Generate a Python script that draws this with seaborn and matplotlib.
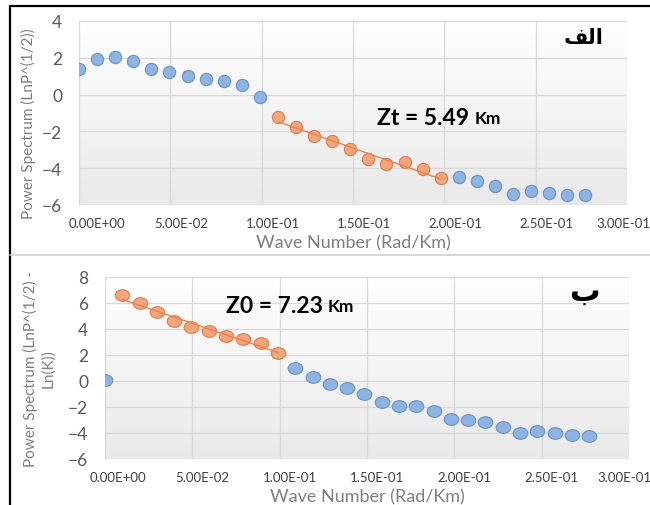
import numpy as np
import matplotlib
matplotlib.use("Agg")
import matplotlib.pyplot as plt
import matplotlib.transforms as mtransforms
from matplotlib.colors import LinearSegmentedColormap
from matplotlib.lines import Line2D
from matplotlib.path import Path
import seaborn as sns

# ===============================================
# Data
# ===============================================
wave_number = [0.0, 0.0099, 0.0198, 0.0297, 0.0396, 0.0495, 0.0594, 0.0693,
               0.0792, 0.0891, 0.099, 0.1089, 0.1188, 0.1287, 0.1386, 0.1485,
               0.1584, 0.1683, 0.1782, 0.1881, 0.198, 0.2079, 0.2178, 0.2277,
               0.2376, 0.2475, 0.2574, 0.2673, 0.2772]

# panel "alef": LnP^(1/2)
spectrum_top = [1.41, 1.93, 2.05, 1.83, 1.41, 1.21, 0.99, 0.84, 0.74, 0.51,
                -0.11,
                -1.21, -1.78, -2.27, -2.54, -2.95, -3.50, -3.75, -3.68, -4.06,
                -4.54,
                -4.50, -4.70, -4.98, -5.38, -5.24, -5.36, -5.47, -5.47]

# panel "beh": LnP^(1/2) - Ln(K)
spectrum_bottom = [0.05,
                   6.58, 5.98, 5.30, 4.62, 4.18, 3.82, 3.50, 3.20, 2.95, 2.19,
                   0.98, 0.34, -0.25, -0.55, -1.02, -1.58, -1.96, -1.96, -2.33,
                   -2.94, -3.00, -3.17, -3.53, -3.97, -3.83, -4.02, -4.13, -4.20]

fit_top = (11, 21)      # index range of the orange (fitted) points
fit_bottom = (1, 11)

x_ticks = [0.0, 0.05, 0.10, 0.15, 0.20, 0.25, 0.30]
x_tick_labels = ["0.00E+00", "5.00E-02", "1.00E-01", "1.50E-01",
                 "2.00E-01", "2.50E-01", "3.00E-01"]
y_ticks_top = [-6, -4, -2, 0, 2, 4]
y_ticks_bottom = [-6, -4, -2, 0, 2, 4, 6, 8]

title_top = "الف"
title_bottom = "ب"
# matplotlib does no Arabic shaping, so use presentation forms in visual order
title_top_shaped = "\uFED2\uFEDF\uFE8D"
title_bottom_shaped = "\uFE8F"

# ===============================================
# Style
# ===============================================
sns.set_style("white")
plt.rcParams["font.family"] = ["Lato", "DejaVu Sans"]

BLUE = "#8db3e2"
BLUE_EDGE = "#6b92c6"
ORANGE = "#f5a47c"
ORANGE_EDGE = "#d9804f"
GRID = "#d9d9d9"
grad_cmap = LinearSegmentedColormap.from_list("bg", ["#ffffff", "#e9e9e9"])


def ellipse_marker(stretch):
    c = Path.unit_circle()
    return Path(c.vertices * np.array([stretch, 1.0]), c.codes)


fig = plt.figure(figsize=(6.5, 5.06), dpi=100)
ax_top = fig.add_axes([79 / 650, 1 - 206 / 506, 548 / 650, 184 / 506])
ax_bot = fig.add_axes([105 / 650, 1 - 460 / 506, 524 / 650, 182 / 506])


def draw_panel(ax, y, fit, yticks, label_shift, annot, annot_xy, tag, tag_xy,
               tag_size, marker, msize):
    x = np.array(wave_number)
    y = np.array(y)
    mask = np.zeros(len(x), dtype=bool)
    mask[fit[0]:fit[1]] = True

    # gradient plot area
    ax.imshow(np.linspace(0, 1, 256).reshape(-1, 1), cmap=grad_cmap,
              extent=[0, 1, 0, 1], transform=ax.transAxes, aspect="auto",
              zorder=0)

    sns.scatterplot(x=x[~mask], y=y[~mask], ax=ax, s=msize, color=BLUE,
                    marker=marker, edgecolor=BLUE_EDGE, linewidth=0.8,
                    zorder=3)
    sns.regplot(x=x[mask], y=y[mask], ax=ax, ci=None, truncate=True,
                marker=marker,
                scatter_kws=dict(s=msize, color=ORANGE, edgecolor=ORANGE_EDGE,
                                 linewidths=0.8, alpha=1, zorder=3),
                line_kws=dict(color="#e8834f", lw=1.0, zorder=4))

    ax.set_xlim(0, 0.3)
    ax.set_ylim(yticks[0], yticks[-1])
    ax.set_xticks(x_ticks)
    ax.set_xticklabels(x_tick_labels)
    ax.set_yticks(yticks)
    ax.grid(True, color=GRID, lw=0.9)
    ax.set_axisbelow(True)
    for s in ax.spines.values():
        s.set_visible(False)
    ax.tick_params(axis="x", length=0, pad=8.5, labelsize=9.5, labelcolor="#404040")
    ax.tick_params(axis="y", length=0, pad=12, labelsize=12.5, labelcolor="#595959")
    for lab, dx in zip(ax.get_xticklabels(), label_shift):
        off = mtransforms.ScaledTranslation(dx / 100, 0, fig.dpi_scale_trans)
        lab.set_transform(lab.get_transform() + off)

    ax.set_xlabel("Wave Number (Rad/Km)", fontsize=13, color="#7f7f7f",
                  labelpad=4)

    t = ax.text(annot_xy[0], annot_xy[1], annot[0], fontsize=16.5,
                fontweight="bold", va="center", ha="left", color="black",
                zorder=5)
    ax.annotate(annot[1], xy=(1, 0.1), xycoords=t, xytext=(4, 0),
                textcoords="offset points", fontsize=12.5, fontweight="bold",
                va="bottom", ha="left", color="black")
    ax.text(tag_xy[0], tag_xy[1], tag, fontsize=tag_size, fontweight="bold",
            va="center", ha="center", family=["DejaVu Sans"], color="black",
            zorder=5)


draw_panel(ax_top, spectrum_top, fit_top, y_ticks_top,
           [18, 11, 11, 11, 11, 11, -4],
           ("Zt = 5.49", "Km"), (0.163, -1.27), title_top_shaped, (0.276, 3.15),
           15, "o", 78)
draw_panel(ax_bot, spectrum_bottom, fit_bottom, y_ticks_bottom,
           [13, 10, 10, 10, 10, 10, -5],
           ("Z0 = 7.23", "Km"), (0.069, 5.77), title_bottom_shaped, (0.2745, 6.9),
           22, ellipse_marker(1.25), 110)

ax_top.set_ylabel("Power Spectrum (LnP^(1/2))", fontsize=11, color="#7f7f7f")
ax_top.yaxis.set_label_coords(-0.078, 0.45)
ax_bot.set_ylabel("Power Spectrum (LnP^(1/2) -\nLn(K))", fontsize=11,
                  color="#7f7f7f", linespacing=1.25)
ax_bot.yaxis.set_label_coords(-0.095, 0.5)

# chart frame lines
fig.add_artist(Line2D([10 / 650, 10 / 650], [0, 1 - 7 / 506],
                      transform=fig.transFigure, color="black", lw=1.6))
fig.add_artist(Line2D([10 / 650, 1], [1 - 7 / 506, 1 - 7 / 506],
                      transform=fig.transFigure, color="black", lw=1.6))
fig.add_artist(Line2D([10 / 650, 1], [1 - 256 / 506, 1 - 256 / 506],
                      transform=fig.transFigure, color="#d0d0d0", lw=1.2))

fig.savefig("out.png", dpi=100)
